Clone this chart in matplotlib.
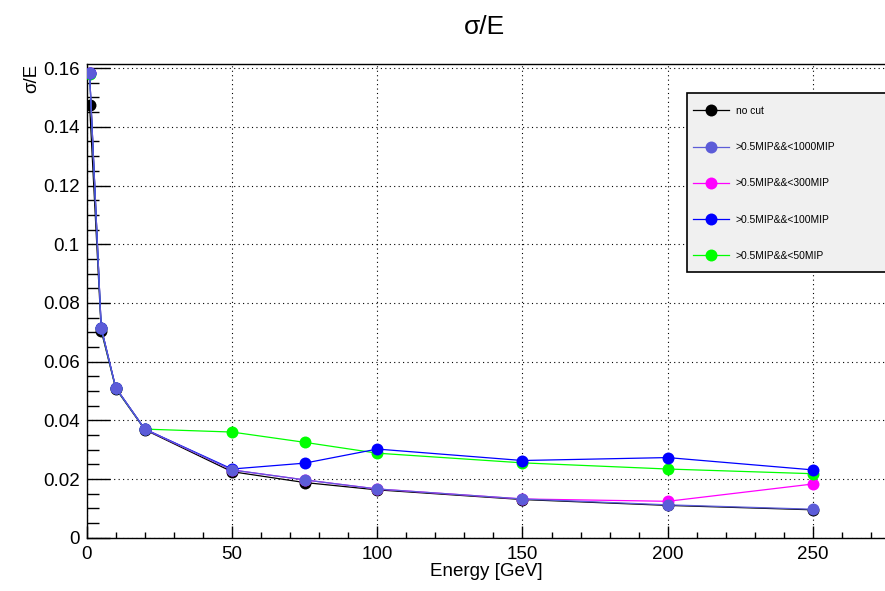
import numpy as np
import matplotlib
matplotlib.use("Agg")
import matplotlib.pyplot as plt
from matplotlib.ticker import MultipleLocator, FormatStrFormatter
from matplotlib.patches import Rectangle

plt.rcParams['font.family'] = ['Liberation Sans', 'DejaVu Sans']

# beam energies [GeV]
energy = [1, 5, 10, 20, 50, 75, 100, 150, 200, 250]

# sigma/E for each hit-energy cut
res_nocut   = [0.1474, 0.0705, 0.0508, 0.0368, 0.0225, 0.0188, 0.0163, 0.0130, 0.0110, 0.0095]
res_1000mip = [0.1582, 0.0715, 0.0511, 0.0370, 0.0231, 0.0197, 0.0166, 0.0132, 0.0112, 0.0097]
res_300mip  = [0.1582, 0.0715, 0.0511, 0.0370, 0.0231, 0.0197, 0.0166, 0.0132, 0.0124, 0.0183]
res_100mip  = [0.1582, 0.0715, 0.0511, 0.0370, 0.0234, 0.0254, 0.0302, 0.0263, 0.0273, 0.0231]
res_50mip   = [0.1580, 0.0713, 0.0510, 0.0370, 0.0360, 0.0325, 0.0288, 0.0255, 0.0234, 0.0218]

labels = ["no cut", ">0.5MIP&&<1000MIP", ">0.5MIP&&<300MIP",
          ">0.5MIP&&<100MIP", ">0.5MIP&&<50MIP"]
colors = ["black", "#5c5cd8", "#ff00ff", "#0000ff", "#00ff00"]
series = [res_nocut, res_1000mip, res_300mip, res_100mip, res_50mip]
zorders = [3, 7, 4, 6, 5]

W, H = 885, 591
fig = plt.figure(figsize=(W / 100, H / 100), dpi=100)
ax = fig.add_axes([86.7 / W, 53.3 / H, (885.6 - 86.7) / W, (537.7 - 64) / H])

for y, lab, c, z in zip(series, labels, colors, zorders):
    ax.plot(energy, y, color=c, lw=0.9, marker='o', ms=8.6, mew=0,
            label=lab, zorder=z)

ax.set_xlim(0, 275)
ax.set_ylim(0, 0.1614)

ax.xaxis.set_major_locator(MultipleLocator(50))
ax.xaxis.set_minor_locator(MultipleLocator(10))
ax.yaxis.set_major_locator(MultipleLocator(0.02))
ax.yaxis.set_minor_locator(MultipleLocator(0.005))
ax.yaxis.set_major_formatter(FormatStrFormatter('%g'))

ax.tick_params(axis='both', which='both', direction='in', labelsize=13.5,
               top=False, right=False, width=1)
ax.tick_params(axis='x', which='major', length=8.6, pad=6)
ax.tick_params(axis='x', which='minor', length=4.3)
ax.tick_params(axis='y', which='major', length=16.6, pad=5)
ax.tick_params(axis='y', which='minor', length=8.6)

ax.grid(True, which='major', color='black', lw=0.8, ls=(0, (1, 3)))
ax.set_axisbelow(True)
for s in ax.spines.values():
    s.set_linewidth(1.0)

fig.text(485 / W, 1 - 27 / H, "σ/E", ha='center', va='center', fontsize=19)
fig.text(486 / W, 1 - 572 / H, "Energy [GeV]", ha='center', va='center', fontsize=13.5)
fig.text(32 / W, 1 - 64 / H, "σ/E", ha='center', va='top', rotation=90, fontsize=13.5)

# legend box
ax.add_patch(Rectangle((687 / W, 1 - 272 / H), 220 / W, 179 / H,
                       transform=fig.transFigure, facecolor='#f0f0f0',
                       edgecolor='black', lw=1.2, zorder=10, clip_on=False))
leg = ax.legend(loc='upper left', bbox_to_anchor=(693 / W, 1 - 106 / H),
                bbox_transform=fig.transFigure, frameon=False, fontsize=7.4,
                borderpad=0, handlelength=3.5, handletextpad=0.65,
                labelspacing=2.55, borderaxespad=0)
leg.set_zorder(11)

fig.savefig("out.png", dpi=100)
